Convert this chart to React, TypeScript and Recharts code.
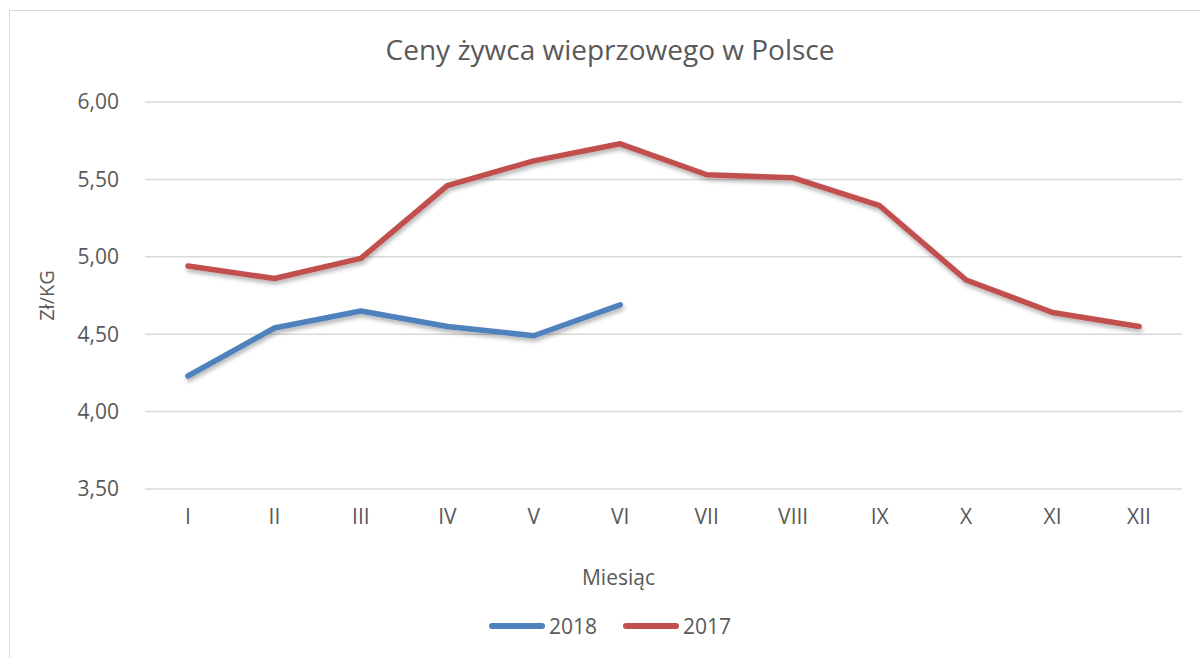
import React from 'react'
import { LineChart, Line, XAxis, YAxis, CartesianGrid } from 'recharts'

const months = ['I', 'II', 'III', 'IV', 'V', 'VI', 'VII', 'VIII', 'IX', 'X', 'XI', 'XII']
const prices2018: (number | null)[] = [4.23, 4.54, 4.65, 4.55, 4.49, 4.69, null, null, null, null, null, null]
const prices2017 = [4.94, 4.86, 4.99, 5.46, 5.62, 5.73, 5.53, 5.51, 5.33, 4.85, 4.64, 4.55]
const yTicks = [3.5, 4, 4.5, 5, 5.5, 6]

const series = [
  { key: 'y2018', name: '2018', color: '#4F81BD' },
  { key: 'y2017', name: '2017', color: '#C0504D' },
]

const data = months.map((m, i) => ({ month: m, y2018: prices2018[i], y2017: prices2017[i] }))

const FONT = '"Open Sans", "Noto Sans", sans-serif'
const TEXT = '#595959'

const fmt = (v: number) => v.toFixed(2).replace('.', ',')

export default function App() {
  return (
    <div style={{ position: 'absolute', left: 0, top: 0, width: 1200, height: 658, overflow: 'hidden', background: '#fff' }}>
      <div style={{ position: 'absolute', left: 9, top: 10, width: 1200, height: 700, border: '1.5px solid #d9d9d9', boxSizing: 'border-box' }} />
      <div style={{ position: 'absolute', left: 0, top: 30, width: 1220, textAlign: 'center', fontFamily: FONT, fontSize: 28, color: TEXT }}>
        Ceny żywca wieprzowego w Polsce
      </div>
      <div style={{ position: 'absolute', left: 0, top: 0 }}>
        <LineChart width={1200} height={658} data={data} margin={{ top: 102, right: 18, bottom: 139, left: 85 }}>
          <defs>
            <filter id="shadow" x="-5%" y="-20%" width="110%" height="140%">
              <feDropShadow dx="1" dy="3" stdDeviation="2" floodColor="#000" floodOpacity="0.3" />
            </filter>
          </defs>
          <CartesianGrid vertical={false} stroke="#d9d9d9" strokeWidth={1.5} />
          <XAxis
            dataKey="month"
            axisLine={false}
            tickLine={false}
            height={30}
            padding={{ left: 43, right: 43 }}
            tick={{ fontFamily: FONT, fontSize: 21, fill: TEXT }}
            tickMargin={14}
            label={{
              content: ({ viewBox }: any) => (
                <text x={viewBox.x + viewBox.width / 2 - 45} y={viewBox.y + 96} textAnchor="middle" fontFamily={FONT} fontSize={21} fill={TEXT}>
                  Miesiąc
                </text>
              ),
            }}
          />
          <YAxis
            domain={[3.5, 6]}
            ticks={yTicks}
            axisLine={false}
            tickLine={false}
            width={60}
            tickFormatter={fmt}
            tick={{ fontFamily: FONT, fontSize: 21, fill: TEXT }}
            tickMargin={20}
            label={{
              content: ({ viewBox }: any) => (
                <text
                  x={46}
                  y={viewBox.y + viewBox.height / 2}
                  textAnchor="middle"
                  dominantBaseline="central"
                  transform={`rotate(-90 46 ${viewBox.y + viewBox.height / 2})`}
                  fontFamily={FONT}
                  fontSize={20}
                  fill={TEXT}
                >
                  Zł/KG
                </text>
              ),
            }}
          />
          {series.map((s) => (
            <Line
              key={s.key}
              type="linear"
              dataKey={s.key}
              name={s.name}
              stroke={s.color}
              strokeWidth={5.5}
              strokeLinecap="round"
              strokeLinejoin="round"
              dot={false}
              activeDot={false}
              filter="url(#shadow)"
              isAnimationActive={false}
            />
          ))}
        </LineChart>
      </div>
      <div
        style={{
          position: 'absolute',
          left: 0,
          top: 612,
          width: 1220,
          display: 'flex',
          justifyContent: 'center',
          gap: 26,
          fontFamily: FONT,
          fontSize: 21,
          color: TEXT,
        }}
      >
        {series.map((s) => (
          <div key={s.key} style={{ display: 'flex', alignItems: 'center' }}>
            <span style={{ display: 'inline-block', width: 56, height: 6, borderRadius: 3, background: s.color, marginRight: 4 }} />
            <span>{s.name}</span>
          </div>
        ))}
      </div>
    </div>
  )
}
